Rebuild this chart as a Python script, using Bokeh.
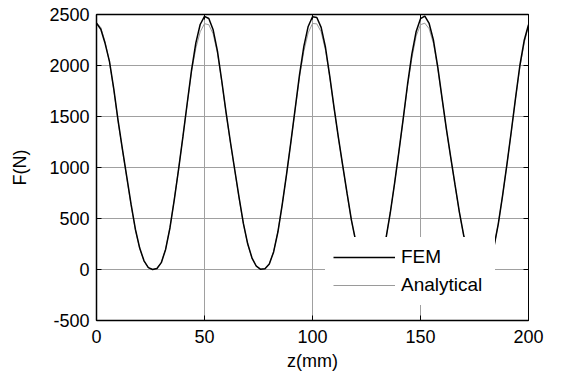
from bokeh.plotting import figure
from bokeh.models import FixedTicker, LinearAxis, Legend, LegendItem, Range1d
from bokeh.embed import file_html
from bokeh.resources import INLINE

# sample positions z (mm)
z = list(range(0, 201, 2))

# FEM force (N)
fem = [2415, 2355, 2215, 2040, 1770, 1460, 1180, 910, 640, 395, 210, 85, 18, 0,
       10, 67, 197, 407, 682, 982, 1300, 1630, 1955, 2222, 2402, 2482,
       2461, 2350, 2140, 1848, 1538, 1250, 978, 708, 452, 252, 112, 32, 2,
       7, 54, 172, 370, 639, 936, 1252, 1579, 1910, 2188, 2383, 2478,
       2471, 2374, 2179, 1894, 1584, 1292, 1018, 748, 487, 278, 129, 40, 4,
       2, 34, 129, 303, 554, 845, 1156, 1479, 1814, 2111, 2334, 2459,
       2485, 2412, 2247, 1985, 1677, 1376, 1099, 829, 562, 335, 168, 61, 10,
       0, 14, 81, 223, 445, 725, 1029, 1348, 1681, 2000, 2245, 2400]

# Analytical force (N)
analytical = [2420, 2372, 2230, 2035, 1760, 1450, 1170, 900, 630, 388, 205, 82, 18, 0,
              12, 70, 200, 410, 685, 985, 1300, 1625, 1940, 2170, 2330, 2410,
              2400, 2310, 2120, 1840, 1530, 1242, 970, 700, 446, 248, 110, 32, 3,
              8, 56, 175, 372, 640, 935, 1250, 1575, 1890, 2140, 2320, 2412,
              2408, 2330, 2150, 1885, 1578, 1286, 1012, 742, 482, 275, 127, 40, 4,
              3, 36, 132, 306, 556, 846, 1156, 1476, 1800, 2070, 2290, 2400,
              2415, 2360, 2215, 1970, 1670, 1370, 1094, 824, 558, 332, 166, 60, 10,
              1, 15, 83, 225, 446, 725, 1028, 1346, 1678, 1985, 2220, 2390]

x_ticks = [0, 50, 100, 150, 200]
y_ticks = [-500, 0, 500, 1000, 1500, 2000, 2500]
y_tick_labels = {-500: "-500", 0: "0", 500: "500", 1000: "1000",
                 1500: "1500", 2000: "2000", 2500: "2500"}

FONT = "Liberation Sans"
FS = "18px"

p = figure(width=561, height=375,
           x_range=Range1d(0, 200), y_range=Range1d(-500, 2500),
           output_backend="svg", toolbar_location=None,
           min_border_left=96, min_border_right=33,
           min_border_top=14, min_border_bottom=55)

p.outline_line_color = "black"
p.outline_line_width = 1
p.background_fill_color = "white"
p.border_fill_color = "white"

for ax in (p.xaxis[0], p.yaxis[0]):
    ax.axis_line_color = "black"
    ax.axis_line_width = 1.5
    ax.major_tick_in = 5
    ax.major_tick_out = 0
    ax.major_tick_line_color = "black"
    ax.minor_tick_line_color = None
    ax.major_label_text_font = FONT
    ax.major_label_text_font_size = FS
    ax.major_label_text_color = "black"
    ax.axis_label_text_font = FONT
    ax.axis_label_text_font_size = FS
    ax.axis_label_text_font_style = "normal"
    ax.axis_label_text_color = "black"

p.xaxis[0].ticker = FixedTicker(ticks=x_ticks)
p.yaxis[0].ticker = FixedTicker(ticks=y_ticks)
p.yaxis[0].major_label_overrides = y_tick_labels
p.xaxis[0].axis_label = "z(mm)"
p.yaxis[0].axis_label = "F(N)"
p.xaxis[0].major_label_standoff = 9
p.xaxis[0].axis_label_standoff = 5
p.yaxis[0].major_label_standoff = 7
p.yaxis[0].axis_label_standoff = 16

# box axes (top / right) with inward ticks, no labels
top = LinearAxis(ticker=FixedTicker(ticks=x_ticks),
                 major_label_overrides={t: "" for t in x_ticks},
                 major_tick_in=5, major_tick_out=0, minor_tick_line_color=None,
                 axis_line_color="black", axis_line_width=1.5, major_label_standoff=0)
right = LinearAxis(ticker=FixedTicker(ticks=y_ticks),
                   major_label_overrides={t: "" for t in y_ticks},
                   major_tick_in=5, major_tick_out=0, minor_tick_line_color=None,
                   axis_line_color="black", axis_line_width=1, major_label_standoff=0)
p.add_layout(top, "above")
p.add_layout(right, "right")

p.xgrid[0].ticker = FixedTicker(ticks=x_ticks)
p.ygrid[0].ticker = FixedTicker(ticks=y_ticks)
for g in (p.xgrid[0], p.ygrid[0]):
    g.grid_line_color = "#a0a0a0"
    g.grid_line_width = 1
    g.grid_line_alpha = 1

r_an = p.line(z, analytical, line_color="#9a9a9a", line_width=1)
r_fem = p.line(z, fem, line_color="black", line_width=1.5)

legend = Legend(items=[LegendItem(label="FEM", renderers=[r_fem]),
                       LegendItem(label="Analytical", renderers=[r_an])],
                location=(229, 15), margin=0, padding=8, spacing=4,
                glyph_width=62, glyph_height=24, label_standoff=6,
                label_width=86, label_height=24,
                label_text_font=FONT, label_text_font_size="19px",
                label_text_color="black",
                border_line_color="white", border_line_alpha=0,
                background_fill_color="white",
                background_fill_alpha=1)
p.add_layout(legend, "center")

open("out.html", "w").write(file_html(p, INLINE))
